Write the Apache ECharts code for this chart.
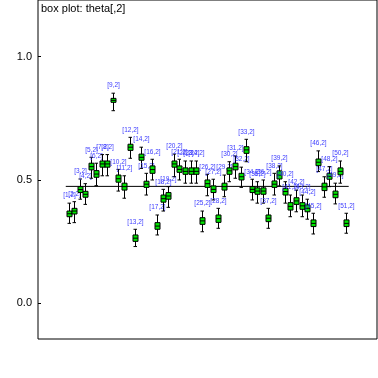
<!DOCTYPE html>
<html>
<head>
<meta charset="utf-8">
<script src="https://cdn.jsdelivr.net/npm/echarts@6/dist/echarts.min.js"></script>
<style>
  html, body { margin: 0; padding: 0; background: #fff; }
  #chart { width: 378px; height: 378px; }
</style>
</head>
<body>
<div id="chart"></div>
<script>
// theta[i,2], i = 1..51 : [2.5%, 25%, median, 75%, 97.5%]
var lows    = [0.324,0.327,0.422,0.401,0.507,0.477,0.517,0.517,0.781,0.455,
               0.426,0.588,0.230,0.547,0.439,0.500,0.277,0.374,0.389,0.513,
               0.500,0.487,0.487,0.487,0.290,0.436,0.419,0.304,0.432,0.493,
               0.507,0.470,0.574,0.419,0.406,0.406,0.304,0.439,0.476,0.406,
               0.351,0.371,0.351,0.341,0.281,0.534,0.430,0.473,0.403,0.487,
               0.284];
var q1s     = [0.351,0.362,0.449,0.430,0.541,0.511,0.552,0.552,0.815,0.491,
               0.459,0.620,0.251,0.580,0.470,0.527,0.300,0.410,0.422,0.552,
               0.531,0.523,0.523,0.523,0.320,0.470,0.449,0.328,0.459,0.523,
               0.541,0.500,0.608,0.449,0.442,0.442,0.331,0.470,0.504,0.439,
               0.378,0.401,0.381,0.371,0.311,0.558,0.457,0.503,0.428,0.521,
               0.311];
var medians = [0.363,0.374,0.461,0.442,0.554,0.524,0.565,0.565,0.823,0.505,
               0.473,0.633,0.264,0.592,0.483,0.542,0.313,0.424,0.435,0.565,
               0.543,0.535,0.535,0.535,0.334,0.485,0.462,0.343,0.473,0.537,
               0.554,0.513,0.622,0.462,0.455,0.455,0.345,0.483,0.520,0.453,
               0.393,0.415,0.395,0.385,0.324,0.572,0.472,0.515,0.442,0.535,
               0.324];
var q3s     = [0.374,0.385,0.473,0.454,0.568,0.538,0.577,0.577,0.831,0.520,
               0.487,0.645,0.277,0.605,0.495,0.557,0.327,0.439,0.449,0.577,
               0.557,0.549,0.549,0.549,0.347,0.500,0.476,0.358,0.487,0.549,
               0.568,0.527,0.635,0.473,0.468,0.468,0.358,0.496,0.537,0.466,
               0.408,0.428,0.408,0.399,0.338,0.585,0.487,0.527,0.455,0.549,
               0.338];
var highs   = [0.406,0.412,0.504,0.485,0.592,0.568,0.603,0.603,0.852,0.543,
               0.517,0.673,0.300,0.633,0.527,0.584,0.358,0.462,0.473,0.605,
               0.584,0.577,0.577,0.577,0.374,0.523,0.503,0.385,0.520,0.574,
               0.597,0.552,0.665,0.503,0.493,0.500,0.385,0.527,0.557,0.493,
               0.439,0.459,0.439,0.422,0.365,0.618,0.513,0.554,0.487,0.577,
               0.365];
var refLine = 0.474;
var yTicks = [0, 0.5, 1.0];

var boxData = [];
for (var i = 0; i < medians.length; i++) {
    boxData.push([i + 1, lows[i], q1s[i], medians[i], q3s[i], highs[i]]);
}

function renderBox(params, api) {
    var x = api.value(0);
    var pLow = api.coord([x, api.value(1)]);
    var pQ1 = api.coord([x, api.value(2)]);
    var pMed = api.coord([x, api.value(3)]);
    var pQ3 = api.coord([x, api.value(4)]);
    var pHigh = api.coord([x, api.value(5)]);
    var cx = Math.round(pMed[0]) + 0.5;
    var w = 2.5;
    var lineStyle = { stroke: '#000', lineWidth: 1 };
    return {
        type: 'group',
        children: [
            { type: 'line', shape: { x1: cx, y1: pHigh[1], x2: cx, y2: pLow[1] }, style: lineStyle },
            { type: 'line', shape: { x1: cx - 2, y1: pHigh[1], x2: cx + 1.5, y2: pHigh[1] }, style: lineStyle },
            { type: 'line', shape: { x1: cx - 2, y1: pLow[1], x2: cx + 1.5, y2: pLow[1] }, style: lineStyle },
            { type: 'rect', shape: { x: cx - w, y: pQ3[1], width: 2 * w, height: pQ1[1] - pQ3[1] },
              style: { fill: '#00e600', stroke: '#000', lineWidth: 1 } },
            { type: 'line', shape: { x1: cx - w, y1: pMed[1], x2: cx + w, y2: pMed[1] }, style: lineStyle },
            { type: 'text', x: cx, y: pHigh[1] - 4,
              style: { text: '[' + x + ',2]', fill: '#4040ff', font: '6.5px "Liberation Sans", Arial, sans-serif',
                       align: 'center', verticalAlign: 'bottom' } }
        ]
    };
}

var myChart = echarts.init(document.getElementById('chart'), null, { renderer: 'canvas' });
myChart.setOption({
    animation: false,
    title: {
        text: 'box plot: theta[,2]',
        left: 36,
        top: -2,
        textStyle: { fontSize: 11, fontWeight: 'normal', color: '#000', fontFamily: '"Liberation Sans", Arial, sans-serif' }
    },
    grid: {
        left: 38, right: 1, top: 0, bottom: 39,
        show: true, borderColor: '#000', borderWidth: 1, backgroundColor: '#fff'
    },
    xAxis: {
        type: 'value', min: -4.505, max: 56.6,
        show: false
    },
    yAxis: {
        type: 'value', min: -0.145, max: 1.23,
        splitLine: { show: false },
        axisLine: { show: false, onZero: false },
        axisTick: { show: true, inside: true, length: 3, customValues: yTicks, lineStyle: { color: '#000' } },
        axisLabel: {
            customValues: yTicks, margin: 6, color: '#000', fontSize: 11,
            fontFamily: '"Liberation Sans", Arial, sans-serif',
            formatter: function (v) { return v.toFixed(1); }
        }
    },
    series: [
        {
            type: 'line',
            data: [[0.5, refLine], [medians.length + 0.5, refLine]],
            symbol: 'none',
            lineStyle: { color: '#000', width: 1 },
            z: 1
        },
        {
            type: 'custom',
            renderItem: renderBox,
            data: boxData,
            encode: { x: 0, y: [1, 2, 3, 4, 5] },
            z: 2
        }
    ]
});
</script>
</body>
</html>
